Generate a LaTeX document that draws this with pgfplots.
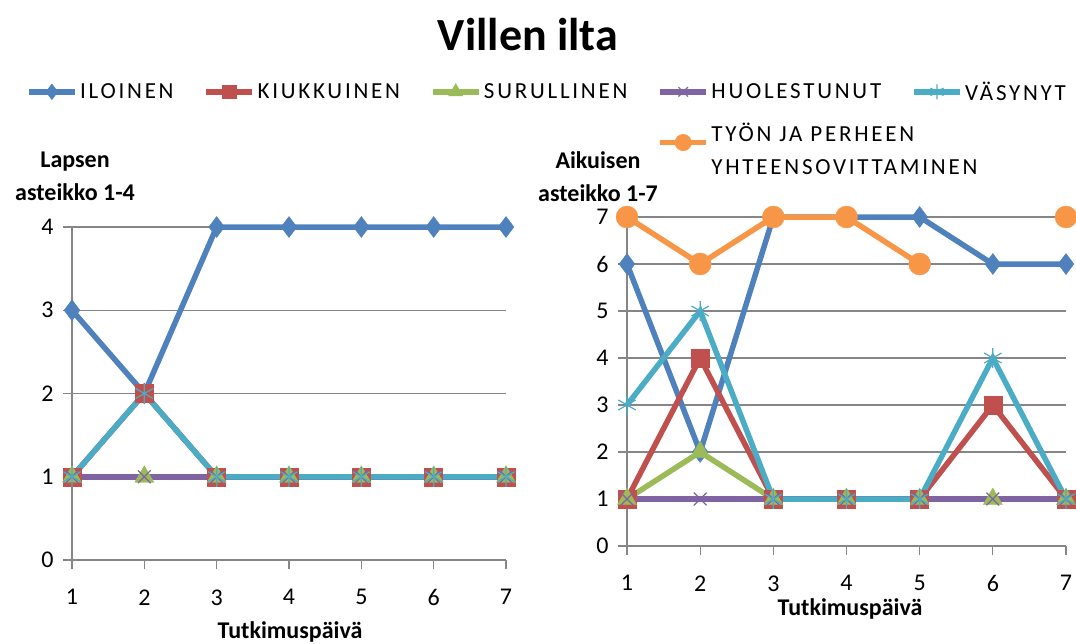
\documentclass[border=0pt]{standalone}
\usepackage{fontspec}
\setmainfont{Carlito}
\newfontfamily\legfont[LetterSpace=12]{Carlito}
\usepackage{pgfplots}
\pgfplotsset{compat=1.18}
\definecolor{cBlue}{HTML}{4F81BD}
\definecolor{cRed}{HTML}{C0504D}
\definecolor{cGreen}{HTML}{9BBB59}
\definecolor{cPurple}{HTML}{8064A2}
\definecolor{cTeal}{HTML}{4BACC6}
\definecolor{cOrange}{HTML}{F79646}
\definecolor{cGrid}{HTML}{868686}
\pgfplotsset{
  excel/.style={
    scale only axis,
    xmin=1, xmax=7, ymin=0,
    xtick={1,...,7},
    axis x line*=bottom, axis y line*=left,
    axis line style={cGrid, line width=1.3pt, -},
    tick style={cGrid, line width=1.3pt},
    tick align=outside,
    major tick length=9pt,
    ymajorgrids, grid style={cGrid, line width=1.3pt},
    ticklabel style={font=\fontsize{24}{28}\selectfont, text=black},
    xticklabel style={yshift=-17pt},
    yticklabel style={xshift=-6pt},
    /pgf/number format/assume math mode=true,
    clip=false,
    unbounded coords=jump,
    legend image code/.code={
      \draw[mark repeat=2,mark phase=2, every mark/.append style={scale=0.75}] plot coordinates {(0pt,0pt) (23pt,0pt) (46pt,0pt)};
    },
  },
  sBlue/.style={cBlue, line width=5.5pt, mark=diamond*, mark size=10.5pt, mark options={solid, line width=0.4pt, fill=cBlue}},
  sRed/.style={cRed, line width=5.5pt, mark=square*, mark size=9pt, mark options={solid, line width=0.4pt, fill=cRed}},
  sGreen/.style={cGreen, line width=5.5pt, mark=triangle*, mark size=11pt, mark options={solid, line width=0.4pt, fill=cGreen}},
  sPurple/.style={cPurple, line width=5.5pt, mark=x, mark size=9pt, mark options={solid, line width=1.2pt}},
  sTeal/.style={cTeal, line width=5.5pt, mark=asterisk, mark size=10pt, mark options={solid, line width=1.2pt}},
  sOrange/.style={cOrange, line width=5.5pt, mark=*, mark size=11pt, mark options={solid, line width=0.4pt, fill=cOrange}},
}
\begin{document}
\begin{tikzpicture}
\path[use as bounding box] (0pt,0pt) rectangle (1076pt,-644pt);

\node[font=\fontsize{46}{50}\selectfont\bfseries] at (528pt,-35pt) {Villen ilta};
\node[font=\fontsize{24}{33}\selectfont\bfseries, align=center] at (75pt,-176pt) {Lapsen\\asteikko 1-4};
\node[font=\fontsize{24}{33}\selectfont\bfseries, align=center] at (598pt,-177pt) {Aikuisen\\asteikko 1-7};
\node[font=\fontsize{24}{28}\selectfont\bfseries] at (290pt,-632pt) {Tutkimuspäivä};
\node[font=\fontsize{24}{28}\selectfont\bfseries] at (850pt,-609pt) {Tutkimuspäivä};

% Left chart: child scale 1-4
\begin{axis}[excel, at={(72pt,-560pt)}, anchor=south west,
  width=434pt, height=333pt, ymax=4, ytick={0,...,4}]
\addplot[sBlue] coordinates {(1,3) (2,2) (3,4) (4,4) (5,4) (6,4) (7,4)};
\addplot[sRed] coordinates {(1,1) (2,2) (3,1) (4,1) (5,1) (6,1) (7,1)};
\addplot[sGreen] coordinates {(1,1) (2,1) (3,1) (4,1) (5,1) (6,1) (7,1)};
\addplot[sPurple] coordinates {(1,1) (2,1) (3,1) (4,1) (5,1) (6,1) (7,1)};
\addplot[sTeal] coordinates {(1,1) (2,2) (3,1) (4,1) (5,1) (6,1) (7,1)};
\end{axis}

% Right chart: adult scale 1-7
\begin{axis}[excel, at={(627pt,-546pt)}, anchor=south west,
  width=439pt, height=329pt, ymax=7, ytick={0,...,7},
  legend columns=5,
  legend cell align=left,
  legend style={draw=none, fill=none, at={(-1.3760,1.4220)}, anchor=north west,
    font=\fontsize{23}{27}\legfont, text=black,
    nodes={inner sep=1.5pt},
    /tikz/every odd column/.append style={column sep=1pt},
    /tikz/every even column/.append style={column sep=28.5pt},
    row sep=31pt},
  ]
\addplot[sBlue] coordinates {(1,6) (2,2) (3,7) (4,7) (5,7) (6,6) (7,6)};
\addlegendentry{ILOINEN}
\addplot[sRed] coordinates {(1,1) (2,4) (3,1) (4,1) (5,1) (6,3) (7,1)};
\addlegendentry{KIUKKUINEN}
\addplot[sGreen] coordinates {(1,1) (2,2) (3,1) (4,1) (5,1) (6,1) (7,1)};
\addlegendentry{SURULLINEN}
\addplot[sPurple] coordinates {(1,1) (2,1) (3,1) (4,1) (5,1) (6,1) (7,1)};
\addlegendentry{HUOLESTUNUT}
\addplot[sTeal] coordinates {(1,3) (2,5) (3,1) (4,1) (5,1) (6,4) (7,1)};
\addlegendentry{VÄSYNYT}
\addlegendimage{empty legend}\addlegendentry{}
\addlegendimage{empty legend}\addlegendentry{}
\addlegendimage{empty legend}\addlegendentry{}
\addplot[sOrange] coordinates {(1,7) (2,6) (3,7) (4,7) (5,6) (6,nan) (7,7)};
\addlegendentry{\rlap{\smash{\begin{tabular}[t]{@{}l@{}}TYÖN JA PERHEEN\\[6pt]YHTEENSOVITTAMINEN\end{tabular}}}}
\end{axis}
\end{tikzpicture}
\end{document}
